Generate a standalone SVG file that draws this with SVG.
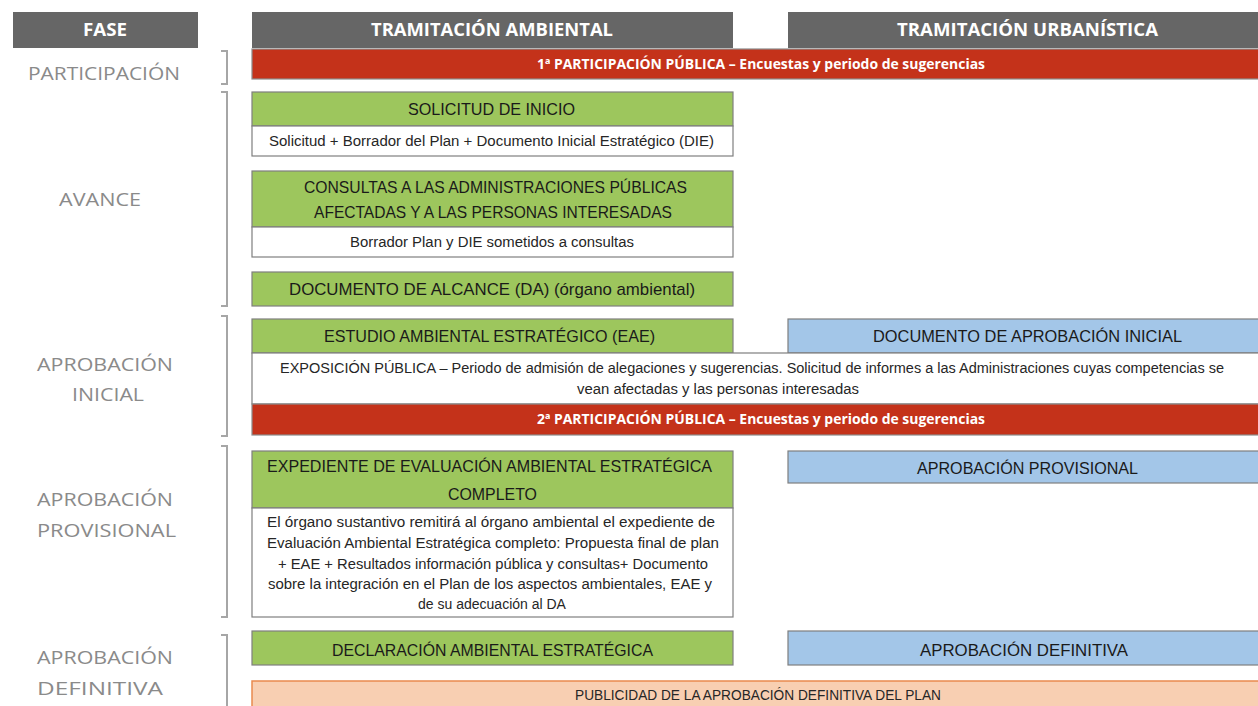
<svg xmlns="http://www.w3.org/2000/svg" width="1258" height="706" viewBox="0 0 1258 706">
<style>
.hdr{fill:#666666}
.hdrt{font-family:"Open Sans","Liberation Sans",sans-serif;font-weight:bold;font-size:17px;fill:#ffffff}
.red{fill:#C4321A;stroke:#8C8C8C;stroke-width:1.2}
.redt{font-family:"Open Sans","Liberation Sans",sans-serif;font-weight:bold;font-size:14px;fill:#ffffff}
.grn{fill:#9DC65D;stroke:#7F7F7F;stroke-width:1.2}
.wht{fill:#ffffff;stroke:#7F7F7F;stroke-width:1.2}
.blu{fill:#A3C6E8;stroke:#7F7F7F;stroke-width:1.2}
.pch{fill:#F8CFB2;stroke:#E98A4F;stroke-width:1.5}
.t{font-family:"Liberation Sans",Arial,sans-serif;font-size:17px;fill:#1A1A1A}
.s{font-family:"Liberation Sans",Arial,sans-serif;font-size:14px;fill:#262626}
.lbl{font-family:"Open Sans","Liberation Sans",sans-serif;font-size:18.5px;fill:#8A8A8A}
.br{fill:none;stroke:#A6A6A6;stroke-width:2}
</style>

<g id="header-fase">
<rect class="hdr" x="13" y="12" width="185" height="36"/>
<text class="hdrt" x="83" y="36" textLength="44" lengthAdjust="spacingAndGlyphs">FASE</text>
</g>
<g id="header-ambiental">
<rect class="hdr" x="252" y="12" width="481" height="36"/>
<text class="hdrt" x="371" y="36" textLength="242" lengthAdjust="spacingAndGlyphs">TRAMITACIÓN AMBIENTAL</text>
</g>
<g id="header-urbanistica">
<rect class="hdr" x="788" y="12" width="474" height="36"/>
<text class="hdrt" x="897" y="36" textLength="261" lengthAdjust="spacingAndGlyphs">TRAMITACIÓN URBANÍSTICA</text>
</g>

<g id="fase-labels">
<text class="lbl" x="28" y="80" textLength="152" lengthAdjust="spacingAndGlyphs">PARTICIPACIÓN</text>
<text class="lbl" x="59" y="206" textLength="82" lengthAdjust="spacingAndGlyphs">AVANCE</text>
<text class="lbl" x="37" y="371" textLength="136" lengthAdjust="spacingAndGlyphs">APROBACIÓN</text>
<text class="lbl" x="72" y="401" textLength="72" lengthAdjust="spacingAndGlyphs">INICIAL</text>
<text class="lbl" x="37" y="506" textLength="136" lengthAdjust="spacingAndGlyphs">APROBACIÓN</text>
<text class="lbl" x="37" y="537" textLength="139" lengthAdjust="spacingAndGlyphs">PROVISIONAL</text>
<text class="lbl" x="37" y="664" textLength="136" lengthAdjust="spacingAndGlyphs">APROBACIÓN</text>
<text class="lbl" x="37" y="695" textLength="126" lengthAdjust="spacingAndGlyphs">DEFINITIVA</text>
</g>

<g id="connectors">
<path class="br" d="M221,51 H227 V84 H221"/>
<path class="br" d="M221,92 H227 V306 H221"/>
<path class="br" d="M221,316 H227 V436 H221"/>
<path class="br" d="M221,446 H227 V617 H221"/>
<path class="br" d="M221,635 H227 V712"/>
</g>

<g id="participacion-1">
<rect class="red" x="252" y="49" width="1012" height="30"/>
<text class="redt" x="537" y="69" textLength="448" lengthAdjust="spacingAndGlyphs">1ª PARTICIPACIÓN PÚBLICA – Encuestas y periodo de sugerencias</text>
</g>

<g id="solicitud-inicio">
<rect class="grn" x="252" y="92" width="481" height="34"/>
<rect class="wht" x="252" y="126" width="481" height="30"/>
<text class="t" x="408" y="115" textLength="167" lengthAdjust="spacingAndGlyphs">SOLICITUD DE INICIO</text>
<text class="s" x="269" y="146" textLength="445" lengthAdjust="spacingAndGlyphs">Solicitud + Borrador del Plan + Documento Inicial Estratégico (DIE)</text>
</g>

<g id="consultas">
<rect class="grn" x="252" y="171" width="481" height="56"/>
<rect class="wht" x="252" y="227" width="481" height="30"/>
<text class="t" x="304" y="193" textLength="383" lengthAdjust="spacingAndGlyphs">CONSULTAS A LAS ADMINISTRACIONES PÚBLICAS</text>
<text class="t" x="314" y="218" textLength="358" lengthAdjust="spacingAndGlyphs">AFECTADAS Y A LAS PERSONAS INTERESADAS</text>
<text class="s" x="350" y="247" textLength="284" lengthAdjust="spacingAndGlyphs">Borrador  Plan y DIE sometidos  a consultas</text>
</g>

<g id="documento-alcance">
<rect class="grn" x="252" y="272" width="481" height="34"/>
<text class="t" x="289" y="295" textLength="406" lengthAdjust="spacingAndGlyphs">DOCUMENTO DE ALCANCE (DA) (órgano ambiental)</text>
</g>

<g id="estudio-eae">
<rect class="grn" x="252" y="319" width="481" height="34"/>
<text class="t" x="324" y="342" textLength="331" lengthAdjust="spacingAndGlyphs">ESTUDIO AMBIENTAL ESTRATÉGICO (EAE)</text>
</g>

<g id="documento-aprobacion-inicial">
<rect class="blu" x="788" y="319" width="474" height="34"/>
<text class="t" x="873" y="342" textLength="309" lengthAdjust="spacingAndGlyphs">DOCUMENTO DE APROBACIÓN INICIAL</text>
</g>

<g id="exposicion-publica">
<rect class="wht" x="252" y="353" width="1012" height="51"/>
<text class="s" x="280" y="373" textLength="944" lengthAdjust="spacingAndGlyphs">EXPOSICIÓN PÚBLICA – Periodo de admisión de alegaciones y sugerencias. Solicitud de informes a las Administraciones cuyas competencias se</text>
<text class="s" x="577" y="394" textLength="282" lengthAdjust="spacingAndGlyphs">vean afectadas y las personas interesadas</text>
</g>

<g id="participacion-2">
<rect class="red" x="252" y="404" width="1012" height="31"/>
<text class="redt" x="537" y="424" textLength="448" lengthAdjust="spacingAndGlyphs">2ª PARTICIPACIÓN PÚBLICA – Encuestas y periodo de sugerencias</text>
</g>

<g id="expediente-eae">
<rect class="grn" x="252" y="451" width="481" height="57"/>
<rect class="wht" x="252" y="508" width="481" height="109"/>
<text class="t" x="267" y="472" textLength="445" lengthAdjust="spacingAndGlyphs">EXPEDIENTE DE EVALUACIÓN AMBIENTAL ESTRATÉGICA</text>
<text class="t" x="448" y="500" textLength="89" lengthAdjust="spacingAndGlyphs">COMPLETO</text>
<text class="s" x="267" y="527" textLength="448" lengthAdjust="spacingAndGlyphs">El órgano sustantivo remitirá al órgano ambiental el expediente de</text>
<text class="s" x="267" y="548" textLength="452" lengthAdjust="spacingAndGlyphs">Evaluación Ambiental Estratégica completo: Propuesta final de plan</text>
<text class="s" x="278" y="569" textLength="430" lengthAdjust="spacingAndGlyphs">+ EAE + Resultados información pública y consultas+ Documento</text>
<text class="s" x="268" y="589" textLength="444" lengthAdjust="spacingAndGlyphs">sobre la integración en el Plan de los aspectos ambientales, EAE y</text>
<text class="s" x="492" y="609" text-anchor="middle">de su adecuación al DA</text>
</g>

<g id="aprobacion-provisional">
<rect class="blu" x="788" y="451" width="474" height="32"/>
<text class="t" x="917" y="474" textLength="221" lengthAdjust="spacingAndGlyphs">APROBACIÓN PROVISIONAL</text>
</g>

<g id="declaracion-ambiental">
<rect class="grn" x="252" y="631" width="481" height="34"/>
<text class="t" x="332" y="656" textLength="321" lengthAdjust="spacingAndGlyphs">DECLARACIÓN AMBIENTAL ESTRATÉGICA</text>
</g>

<g id="aprobacion-definitiva">
<rect class="blu" x="788" y="631" width="474" height="34"/>
<text class="t" x="920" y="656" textLength="208" lengthAdjust="spacingAndGlyphs">APROBACIÓN DEFINITIVA</text>
</g>

<g id="publicidad">
<rect class="pch" x="252" y="681" width="1012" height="32"/>
<text class="s" x="575" y="700" textLength="366" lengthAdjust="spacingAndGlyphs">PUBLICIDAD DE LA APROBACIÓN DEFINITIVA DEL PLAN</text>
</g>
</svg>
